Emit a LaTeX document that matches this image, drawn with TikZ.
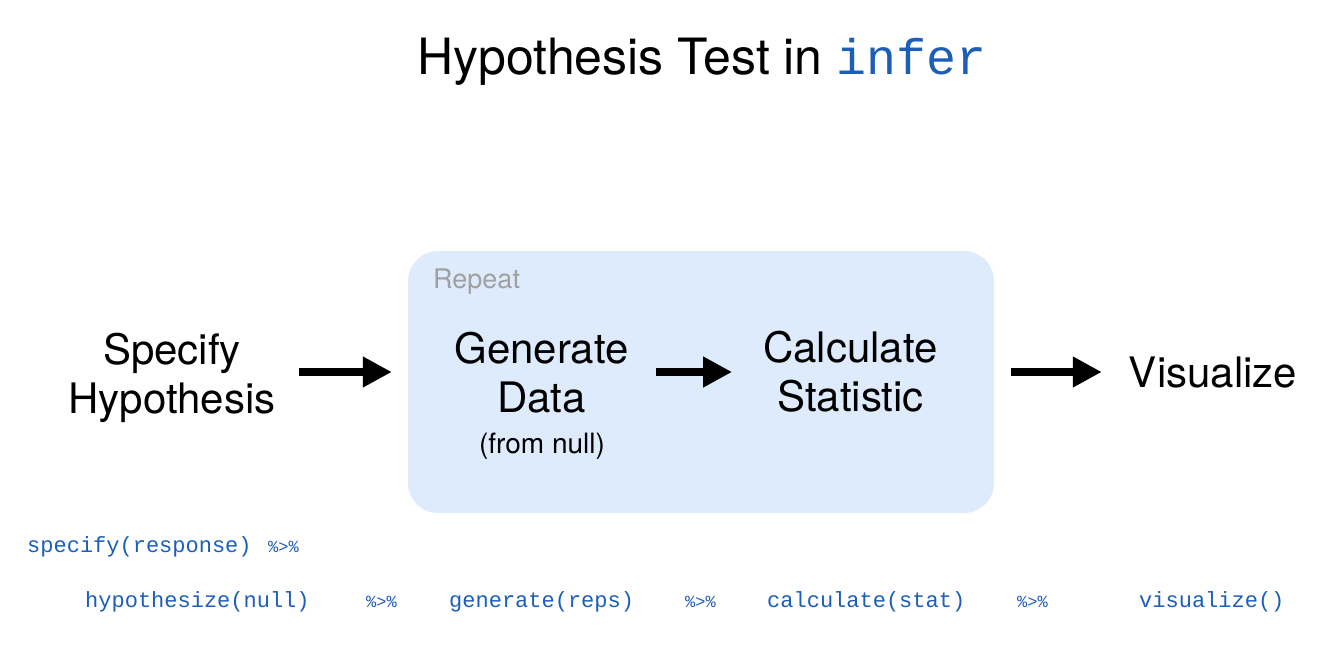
\documentclass[tikz,border=0pt]{standalone}
\usepackage{fontspec}
\setmainfont{TeX Gyre Heros}
\setmonofont{Liberation Mono}
\usetikzlibrary{arrows.meta}
\definecolor{codeblue}{RGB}{28,94,184}
\definecolor{boxfill}{RGB}{221,235,252}
\definecolor{repgray}{RGB}{160,160,160}
\begin{document}
\begin{tikzpicture}[x=1pt,y=-1pt,
  big/.style={font=\fontsize{42}{49}\selectfont, align=center, inner sep=0pt},
  code/.style={font=\ttfamily\fontsize{22}{26}\selectfont, text=codeblue, inner sep=0pt, anchor=base west},
  pipe/.style={font=\ttfamily\fontsize{17}{20}\selectfont, text=codeblue, inner sep=0pt, anchor=base west},
  arr/.style={line width=8.5pt, -{Triangle[length=29pt,width=29pt]}},
]
\useasboundingbox (0,0) rectangle (1339,651);
\node[fill=boxfill, rounded corners=30pt, minimum width=586pt, minimum height=262pt, inner sep=0pt] (box) at (701,382) {};
\node[font=\fontsize{50}{58}\selectfont, anchor=base, inner sep=0pt] (title) at (702,74) {Hypothesis Test in \textcolor{codeblue}{\ttfamily infer}};
\node[font=\fontsize{27}{32}\selectfont, text=repgray, anchor=base west, inner sep=0pt] (rep) at (433,288) {Repeat};
\node[big] (spec) at (172,378) {Specify\\Hypothesis};
\node[big] (gen) at (541.5,372.4) {Generate\\Data};
\node[font=\fontsize{28}{32}\selectfont, anchor=base, inner sep=0pt] (genn) at (542,453) {(from null)};
\node[big] (calc) at (850.5,371.8) {Calculate\\Statistic};
\node[font=\fontsize{42}{49}\selectfont, anchor=base, inner sep=0pt] (vis) at (1213,387) {Visualize};
\coordinate (ay) at (0,372);
\draw[arr, shorten <=23pt, shorten >=16pt] (spec.east |- ay) -- (box.west |- ay);
\draw[arr, shorten <=27pt, shorten >=31pt] (gen.east |- ay) -- (calc.west |- ay);
\draw[arr, shorten <=17pt, shorten >=27pt] (box.east |- ay) -- (vis.west |- ay);
\node[code] (c1) at (27,552) {specify(response)};
\node[pipe] (p0) at (268,552) {\%>\%};
\node[code] (c2) at (85,607) {hypothesize(null)};
\node[pipe] (p1) at (366,607) {\%>\%};
\node[code] (c3) at (449,607) {generate(reps)};
\node[pipe] (p2) at (685,607) {\%>\%};
\node[code] (c4) at (767,607) {calculate(stat)};
\node[pipe] (p3) at (1017,607) {\%>\%};
\node[code] (c5) at (1139,607) {visualize()};
\end{tikzpicture}
\end{document}
